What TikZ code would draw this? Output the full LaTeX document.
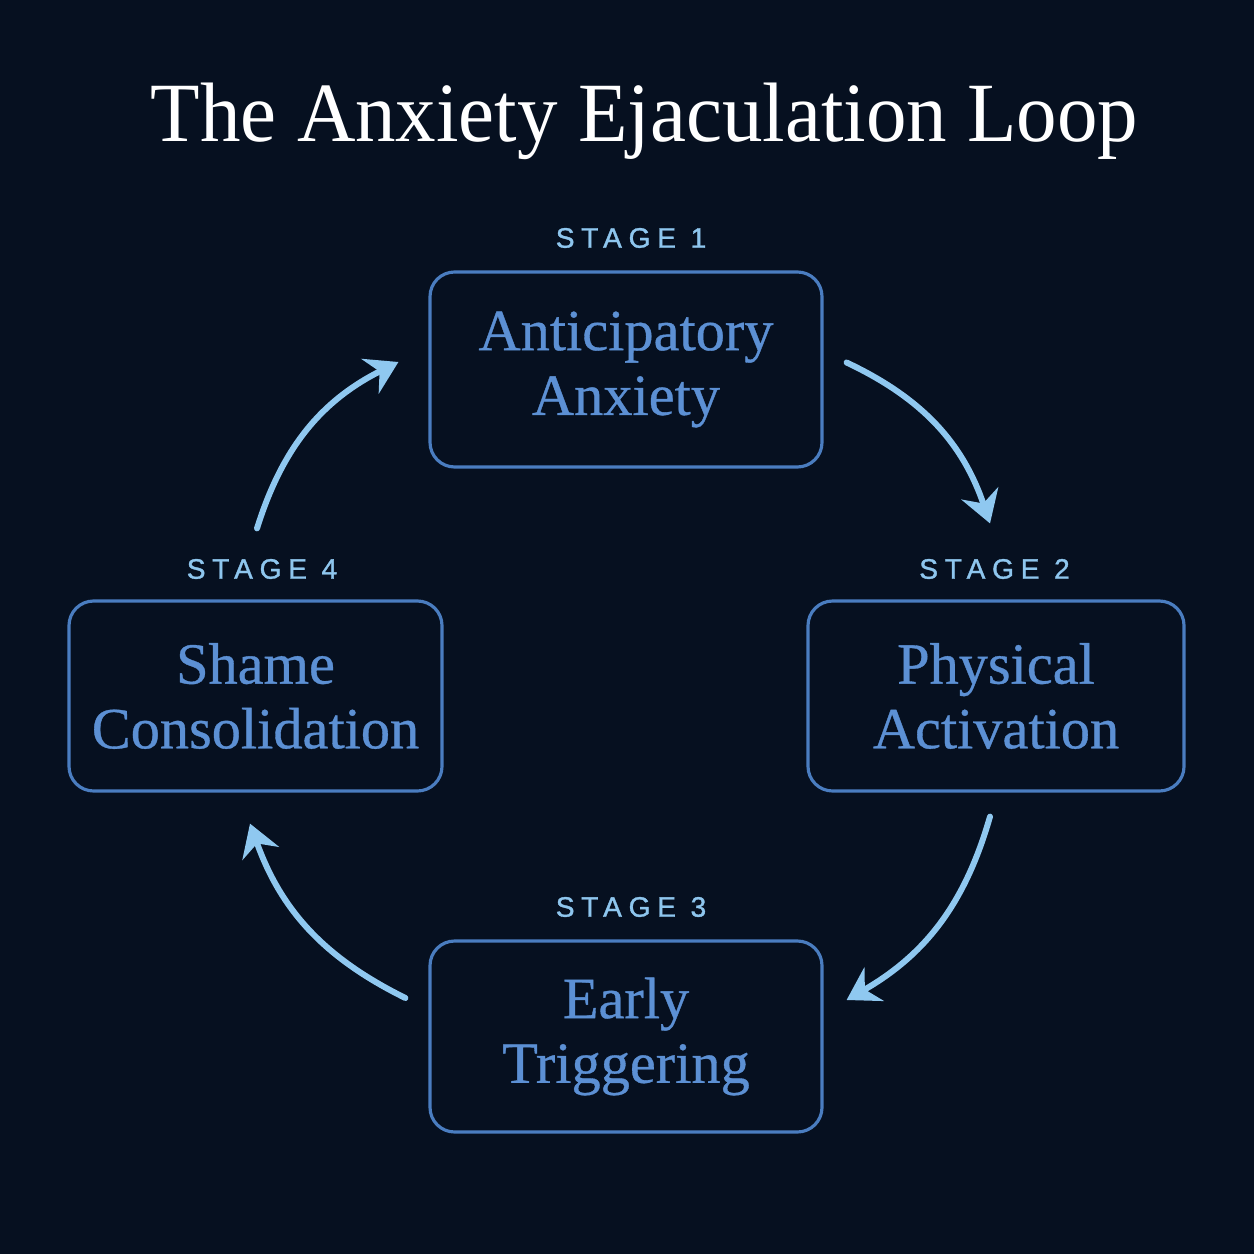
\documentclass[tikz,border=0pt]{standalone}
\usepackage{fontspec}
\setmainfont{Liberation Serif}
\newfontfamily\titlefont[FakeStretch=0.96]{Liberation Serif}
\newfontfamily\boxfont[FakeBold=0.6]{Liberation Serif}
\newfontfamily\stagefont[LetterSpace=24, FakeBold=1.2]{Liberation Sans}
\usetikzlibrary{arrows.meta}

\definecolor{bgnavy}{RGB}{6,16,32}
\definecolor{boxline}{RGB}{74,125,192}
\definecolor{boxtext}{RGB}{92,144,212}
\definecolor{stagetext}{RGB}{142,198,238}
\definecolor{looparr}{RGB}{143,200,240}

\begin{document}
\begin{tikzpicture}[
    >={Stealth[length=9pt, width=11pt, inset=3pt]},
    arr/.style={->, looparr, line width=1.7pt, line cap=round},
    stagebox/.style={draw=boxline, line width=0.9pt, rounded corners=7pt,
        minimum width=3.92cm, minimum height=1.92cm, align=center,
        text=boxtext, font=\boxfont\fontsize{16.6}{18.4}\selectfont},
    stagelab/.style={text=stagetext, inner sep=0pt, font=\stagefont\fontsize{8}{9}\selectfont}
]

% =========================================================
% NỀN + TIÊU ĐỀ
% =========================================================
\fill[bgnavy] (0,0) rectangle (12.54,-12.54);
\useasboundingbox (0,0) rectangle (12.54,-12.54);
\node[text=white, font=\titlefont\fontsize{24}{28}\selectfont, anchor=base] (title) at (6.445,-1.42)
{The Anxiety Ejaculation Loop};

% ------------------- CÁC GIAI ĐOẠN -------------------
\node[stagelab] (lab1) at (6.31,-2.38) {STAGE 1};
\node[stagebox, minimum height=1.95cm] (b1) at (6.26,-3.695) {Anticipatory\\Anxiety};

\node[stagelab] (lab2) at (9.945,-5.69) {STAGE 2};
\node[stagebox, minimum width=3.76cm, minimum height=1.90cm] (b2) at (9.96,-6.96) {Physical\\Activation};

\node[stagelab] (lab3) at (6.31,-9.07) {STAGE 3};
\node[stagebox, minimum height=1.91cm] (b3) at (6.26,-10.365) {Early\\Triggering};

\node[stagelab] (lab4) at (2.62,-5.69) {STAGE 4};
\node[stagebox, minimum width=3.73cm, minimum height=1.90cm] (b4) at (2.555,-6.96) {Shame\\Consolidation};

% ------------------- VÒNG LẶP (cung tròn theo chiều kim đồng hồ) -------------------
\draw[arr] ([shift={(0.23,0.07)}]b1.east) to[bend left=23] ([shift={(-0.06,0.76)}]b2.north);
\draw[arr] ([shift={(-0.06,-0.24)}]b2.south) to[bend left=22] ([shift={(0.23,0.365)}]b3.east);
\draw[arr] ([shift={(-0.23,0.385)}]b3.west) to[bend left=22] ([shift={(-0.055,-0.31)}]b4.south);
\draw[arr] ([shift={(0.015,0.71)}]b4.north) to[bend left=23] ([shift={(-0.30,0.075)}]b1.west);

\end{tikzpicture}
\end{document}
